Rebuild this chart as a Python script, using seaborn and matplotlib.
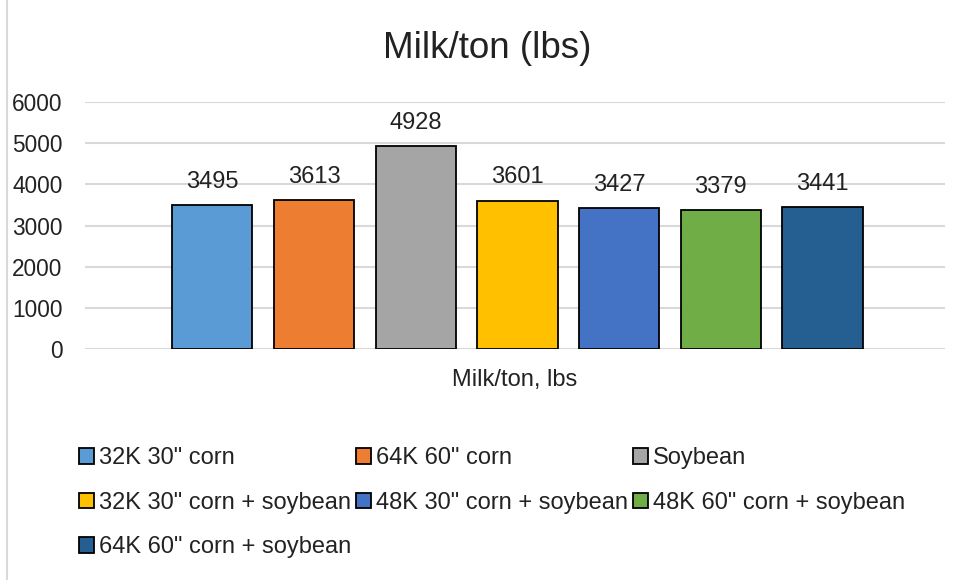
import matplotlib
matplotlib.use("Agg")
import matplotlib.pyplot as plt
import matplotlib.patches as mpatches
import seaborn as sns
import pandas as pd

# data
treatments = ['32K 30" corn', '64K 60" corn', 'Soybean',
              '32K 30" corn + soybean', '48K 30" corn + soybean',
              '48K 60" corn + soybean', '64K 60" corn + soybean']
milk_per_ton = [3495, 3613, 4928, 3601, 3427, 3379, 3441]
colors = ['#5B9BD5', '#ED7D31', '#A5A5A5', '#FFC000', '#4472C4', '#70AD47', '#255E91']
category = 'Milk/ton, lbs'

df = pd.DataFrame({'cat': [category] * len(treatments),
                   'treatment': treatments,
                   'value': milk_per_ton})

sns.set_style('white')
plt.rcParams['font.family'] = ['Liberation Sans', 'DejaVu Sans']

fig = plt.figure(figsize=(9.65, 5.8), dpi=100)
ax = fig.add_axes([0.088, 0.398, 0.891, 0.426])

sns.barplot(data=df, x='cat', y='value', hue='treatment', hue_order=treatments,
            palette=colors, saturation=1, width=0.828, gap=0.21, edgecolor='black',
            linewidth=1.3, legend=False, ax=ax, zorder=3)

for cont in ax.containers:
    ax.bar_label(cont, fmt='%d', padding=9, fontsize=17, color='#222222')

ax.set_ylim(0, 6000)
ax.set_xlim(-0.503, 0.497)
ax.set_yticks(range(0, 6001, 1000))
ax.yaxis.grid(True, color='#d9d9d9', linewidth=1.5, zorder=0)
ax.set_axisbelow(True)
for s in ax.spines.values():
    s.set_visible(False)
ax.tick_params(axis='y', length=0, pad=16, labelsize=16.3, labelcolor='#222222')
ax.tick_params(axis='x', length=0, labelbottom=False)
ax.set_ylabel('')
ax.set_xlabel(category, fontsize=17, color='#222222', labelpad=14)

fig.text(0.505, 0.917, 'Milk/ton (lbs)', ha='center', va='center',
         fontsize=26.5, color='#222222')

# legend, filled row by row like Excel
handles = [mpatches.Patch(facecolor=c, edgecolor='black', linewidth=1.3) for c in colors]
order = [0, 3, 6, 1, 4, 2, 5]
leg = fig.legend([handles[i] for i in order], [treatments[i] for i in order],
                 ncol=3, loc='upper left', bbox_to_anchor=(0.072, 0.245),
                 frameon=False, fontsize=17, handlelength=0.65, handleheight=0.65,
                 handletextpad=0.2, columnspacing=0.2, labelspacing=0.95,
                 borderaxespad=0)
for t in leg.get_texts():
    t.set_color('#222222')

# outer chart frame (left edge visible in the original)
fig.add_artist(plt.Line2D([7 / 965, 7 / 965], [0, 1], color='#d9d9d9', linewidth=1.5))

fig.savefig('out.png', dpi=100)
